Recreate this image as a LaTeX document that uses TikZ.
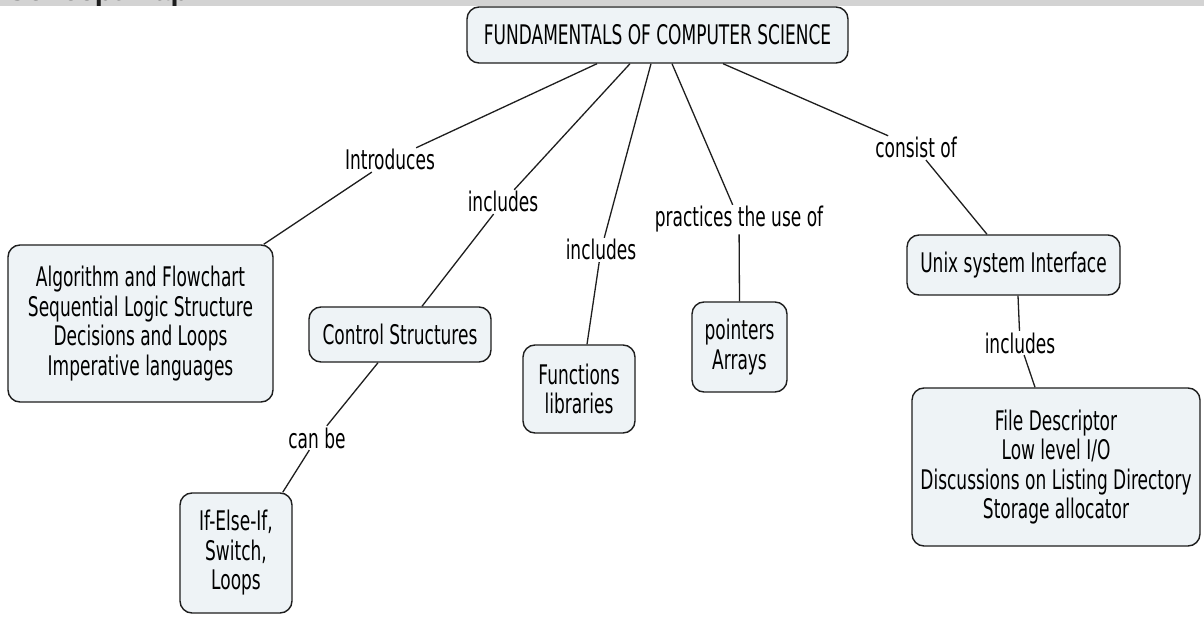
\documentclass[tikz,border=0pt]{standalone}
\usepackage{fontspec}
\setmainfont{DejaVu Sans}[FakeStretch=0.63]
\newfontfamily\barfont{Liberation Sans}
\definecolor{boxfill}{RGB}{238,243,246}
\definecolor{barfill}{RGB}{211,211,211}
\definecolor{edge}{RGB}{30,30,30}
\begin{document}
\begin{tikzpicture}[x=1pt,y=-1pt,
  box/.style={draw=edge, line width=1.4pt, fill=boxfill, rounded corners=12pt,
    align=center, inner sep=0pt, font=\fontsize{27}{29.5}\selectfont},
  lab/.style={inner sep=1.5pt, font=\fontsize{27}{29.5}\selectfont, anchor=base},
  conn/.style={draw=edge, line width=1.3pt}]

\useasboundingbox (0,0) rectangle (1204,617);
\fill[white] (0,0) rectangle (1204,617);
\fill[barfill] (0,0) rectangle (1204,6);
\begin{scope}
  \clip (0,0) rectangle (1204,6);
  \node[anchor=base west, inner sep=0pt, text=edge,
    font=\barfont\bfseries\fontsize{29}{30}\selectfont] (title) at (6,0.5) {Concept Map};
\end{scope}

% concept boxes
\node[box, minimum width=381pt, minimum height=56pt] (root) at (657.5,35) {FUNDAMENTALS OF COMPUTER SCIENCE};
\node[box, minimum width=265pt, minimum height=157pt] (alg) at (140.5,323.5)
  {Algorithm and Flowchart\\Sequential Logic Structure\\Decisions and Loops\\Imperative languages};
\node[box, minimum width=182pt, minimum height=55pt] (ctrl) at (400,334.5) {Control Structures};
\node[box, minimum width=112pt, minimum height=88pt] (func) at (579,389) {Functions\\libraries};
\node[box, minimum width=95pt, minimum height=90pt] (ptr) at (739.5,347) {pointers\\Arrays};
\node[box, minimum width=213pt, minimum height=60pt] (unix) at (1013.5,265) {Unix system Interface};
\node[box, minimum width=288pt, minimum height=158pt] (file) at (1056,467)
  {File Descriptor\\Low level I/O\\Discussions on Listing Directory\\Storage allocator};
\node[box, minimum width=112pt, minimum height=120pt] (ifelse) at (236,553) {If-Else-If,\\Switch,\\Loops};

% linking phrases
\node[lab] (intro) at (390,170) {Introduces};
\node[lab] (inc1) at (503,212) {includes};
\node[lab] (inc2) at (601,260) {includes};
\node[lab] (prac) at (739,227) {practices the use of};
\node[lab] (cons) at (916,158) {consist of};
\node[lab] (canbe) at (317,448) {can be};
\node[lab] (inc3) at (1020,353) {includes};

% connectors
\draw[conn] ([xshift=-60.5pt]root.south) -- (intro);
\draw[conn] (intro) -- ([xshift=-10pt]alg.north east);
\draw[conn] ([xshift=-27.5pt]root.south) -- (inc1);
\draw[conn] (inc1) -- ([xshift=22pt]ctrl.north);
\draw[conn] ([xshift=-6.5pt]root.south) -- (inc2);
\draw[conn] (inc2) -- ([xshift=8pt]func.north);
\draw[conn] ([xshift=14.5pt]root.south) -- (prac);
\draw[conn] (prac) -- (ptr.north);
\draw[conn] ([xshift=65.5pt]root.south) -- (cons);
\draw[conn] (cons) -- ([xshift=-26.5pt]unix.north);
\draw[conn] ([xshift=-22pt]ctrl.south) -- (canbe);
\draw[conn] (canbe) -- ([xshift=-10pt]ifelse.north east);
\draw[conn] ([xshift=4.5pt]unix.south) -- (inc3);
\draw[conn] (inc3) -- ([xshift=-21pt]file.north);
\end{tikzpicture}
\end{document}
